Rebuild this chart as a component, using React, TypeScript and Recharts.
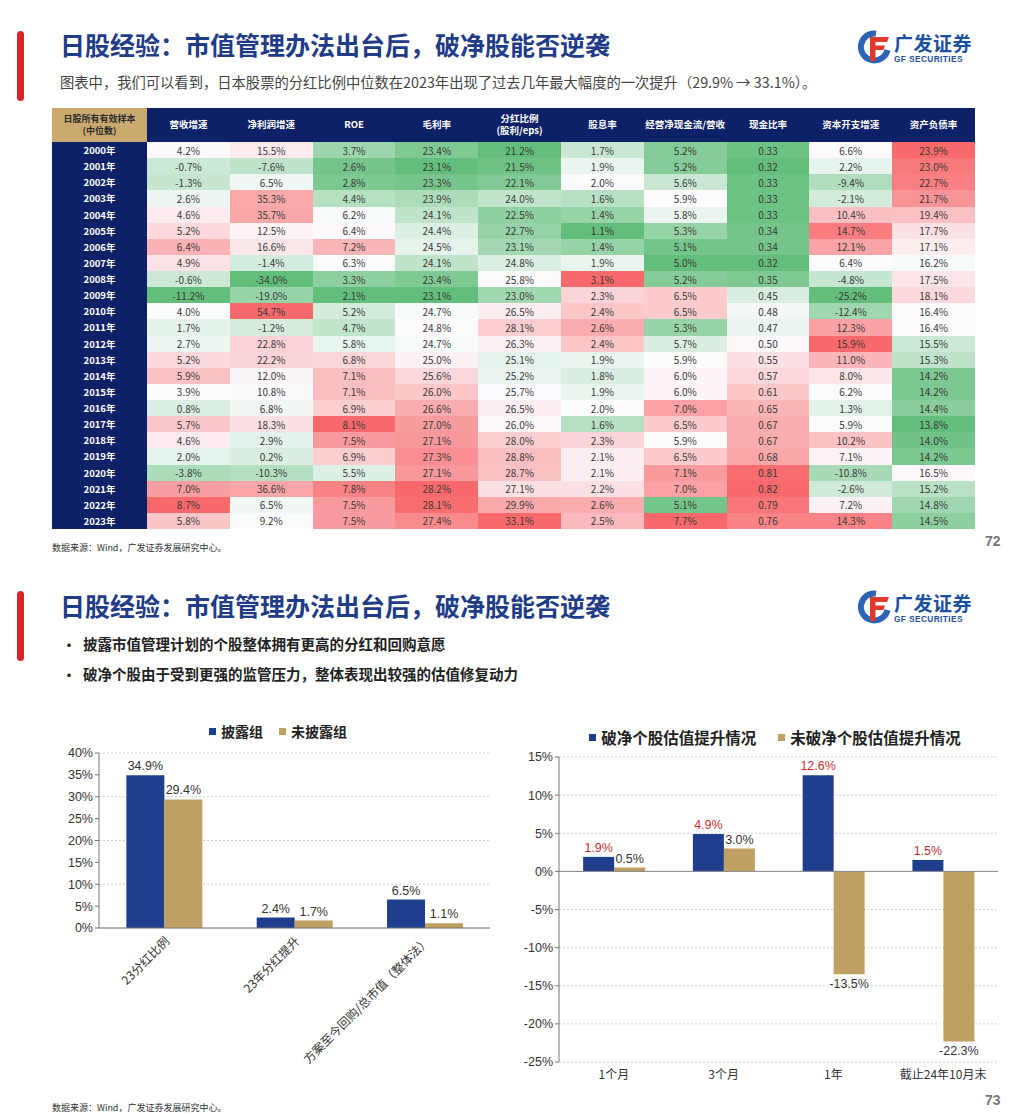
import React from 'react';
import { BarChart, Bar, XAxis, YAxis, CartesianGrid, Legend, LabelList, ReferenceLine } from 'recharts';

// ---------------- DATA ----------------
const years = ['2000年','2001年','2002年','2003年','2004年','2005年','2006年','2007年','2008年','2009年','2010年','2011年','2012年','2013年','2014年','2015年','2016年','2017年','2018年','2019年','2020年','2021年','2022年','2023年'];

const tableCorner = ['日股所有有效样本', '(中位数)'];
const tableHeaders = [['营收增速'], ['净利润增速'], ['ROE'], ['毛利率'], ['分红比例', '(股利/eps)'], ['股息率'], ['经营净现金流/营收'], ['现金比率'], ['资本开支增速'], ['资产负债率']];

const revenueGrowth = [4.2, -0.7, -1.3, 2.6, 4.6, 5.2, 6.4, 4.9, -0.6, -11.2, 4.0, 1.7, 2.7, 5.2, 5.9, 3.9, 0.8, 5.7, 4.6, 2.0, -3.8, 7.0, 8.7, 5.8];
const netProfitGrowth = [15.5, -7.6, 6.5, 35.3, 35.7, 12.5, 16.6, -1.4, -34.0, -19.0, 54.7, -1.2, 22.8, 22.2, 12.0, 10.8, 6.8, 18.3, 2.9, 0.2, -10.3, 36.6, 6.5, 9.2];
const roe = [3.7, 2.6, 2.8, 4.4, 6.2, 6.4, 7.2, 6.3, 3.3, 2.1, 5.2, 4.7, 5.8, 6.8, 7.1, 7.1, 6.9, 8.1, 7.5, 6.9, 5.5, 7.8, 7.5, 7.5];
const grossMargin = [23.4, 23.1, 23.3, 23.9, 24.1, 24.4, 24.5, 24.1, 23.4, 23.1, 24.7, 24.8, 24.7, 25.0, 25.6, 26.0, 26.6, 27.0, 27.1, 27.3, 27.1, 28.2, 28.1, 27.4];
const payoutRatio = [21.2, 21.5, 22.1, 24.0, 22.5, 22.7, 23.1, 24.8, 25.8, 23.0, 26.5, 28.1, 26.3, 25.1, 25.2, 25.7, 26.5, 26.0, 28.0, 28.8, 28.7, 27.1, 29.9, 33.1];
const dividendYield = [1.7, 1.9, 2.0, 1.6, 1.4, 1.1, 1.4, 1.9, 3.1, 2.3, 2.4, 2.6, 2.4, 1.9, 1.8, 1.9, 2.0, 1.6, 2.3, 2.1, 2.1, 2.2, 2.6, 2.5];
const ocfToRevenue = [5.2, 5.2, 5.6, 5.9, 5.8, 5.3, 5.1, 5.0, 5.2, 6.5, 6.5, 5.3, 5.7, 5.9, 6.0, 6.0, 7.0, 6.5, 5.9, 6.5, 7.1, 7.0, 5.1, 7.7];
const cashRatio = [0.33, 0.32, 0.33, 0.33, 0.33, 0.34, 0.34, 0.32, 0.35, 0.45, 0.48, 0.47, 0.50, 0.55, 0.57, 0.61, 0.65, 0.67, 0.67, 0.68, 0.81, 0.82, 0.79, 0.76];
const capexGrowth = [6.6, 2.2, -9.4, -2.1, 10.4, 14.7, 12.1, 6.4, -4.8, -25.2, -12.4, 12.3, 15.9, 11.0, 8.0, 6.2, 1.3, 5.9, 10.2, 7.1, -10.8, -2.6, 7.2, 14.3];
const debtRatio = [23.9, 23.0, 22.7, 21.7, 19.4, 17.7, 17.1, 16.2, 17.5, 18.1, 16.4, 16.4, 15.5, 15.3, 14.2, 14.2, 14.4, 13.8, 14.0, 14.2, 16.5, 15.2, 14.8, 14.5];

const tableColumns = [revenueGrowth, netProfitGrowth, roe, grossMargin, payoutRatio, dividendYield, ocfToRevenue, cashRatio, capexGrowth, debtRatio];
const columnIsRatio = [false, false, false, false, false, false, false, true, false, false];

const leftCategories = ['23分红比例', '23年分红提升', '方案至今回购/总市值（整体法）'];
const leftSeriesNames = ['披露组', '未披露组'];
const disclosedGroup = [34.9, 2.4, 6.5];
const undisclosedGroup = [29.4, 1.7, 1.1];
const leftTicks = [0, 5, 10, 15, 20, 25, 30, 35, 40];

const rightCategories = ['1个月', '3个月', '1年', '截止24年10月末'];
const rightSeriesNames = ['破净个股估值提升情况', '未破净个股估值提升情况'];
const belowBook = [1.9, 4.9, 12.6, 1.5];
const aboveBook = [0.5, 3.0, -13.5, -22.3];
const rightTicks = [-25, -20, -15, -10, -5, 0, 5, 10, 15];

// ---------------- STYLE ----------------
const FONT_CN = '"Noto Sans CJK SC", "Noto Sans", sans-serif';
const FONT_NUM = '"Liberation Sans", Arial, sans-serif';
const NAVY = '#0d2169';
const BLUE = '#1f3e8e';
const GOLD = '#bf9f62';
const TITLE = '#1f3c88';

function makeScale(values: number[]) {
  const s = [...values].sort((a, b) => a - b);
  const min = s[0];
  const max = s[s.length - 1];
  const pos = (s.length - 1) * 0.5;
  const lo = Math.floor(pos);
  const hi = Math.ceil(pos);
  const mid = s[lo] + (s[hi] - s[lo]) * (pos - lo);
  const G = [99, 190, 123];
  const W = [252, 252, 255];
  const R = [248, 105, 107];
  return (v: number) => {
    let a: number[], b: number[], t: number;
    if (v <= mid) {
      a = G; b = W; t = mid === min ? 1 : (v - min) / (mid - min);
    } else {
      a = W; b = R; t = max === mid ? 0 : (v - mid) / (max - mid);
    }
    const c = a.map((x, i) => Math.round(x + (b[i] - x) * t));
    return `rgb(${c[0]},${c[1]},${c[2]})`;
  };
}

function HeatTable() {
  const scales = tableColumns.map(makeScale);
  const cellBase: React.CSSProperties = {
    display: 'flex', alignItems: 'center', justifyContent: 'center', textAlign: 'center',
  };
  return (
    <div style={{
      position: 'absolute', left: 52, top: 108, width: 923, height: 421,
      display: 'grid', gridTemplateColumns: '95px repeat(10, 1fr)', gridTemplateRows: '34px repeat(24, 1fr)',
      fontFamily: FONT_CN,
    }}>
      <div style={{ ...cellBase, background: '#c9a96e', color: '#2b2b2b', fontSize: 9, fontWeight: 700, lineHeight: 1.3, flexDirection: 'column' }}>
        {tableCorner.map((t) => <span key={t}>{t}</span>)}
      </div>
      {tableHeaders.map((h, i) => (
        <div key={'h' + i} style={{ ...cellBase, background: NAVY, color: '#fff', fontSize: 9.5, fontWeight: 700, lineHeight: 1.25, flexDirection: 'column' }}>
          {h.map((t) => <span key={t}>{t}</span>)}
        </div>
      ))}
      {years.map((y, r) => (
        <React.Fragment key={y}>
          <div style={{ ...cellBase, background: NAVY, color: '#fff', fontSize: 9.5, fontWeight: 700 }}>{y}</div>
          {tableColumns.map((col, c) => (
            <div key={c} style={{ ...cellBase, background: scales[c](col[r]), color: '#3a3a3a', fontSize: 10 }}>
              {columnIsRatio[c] ? col[r].toFixed(2) : col[r].toFixed(1) + '%'}
            </div>
          ))}
        </React.Fragment>
      ))}
    </div>
  );
}

function Logo({ x, y }: { x: number; y: number }) {
  return (
    <div style={{ position: 'absolute', left: x, top: y, width: 122, height: 36 }}>
      <svg width={34} height={34} viewBox="0 0 34 34" style={{ position: 'absolute', left: 0, top: 0 }}>
        <path d="M19 3.5 A13.5 13.5 0 1 0 30.5 20" fill="none" stroke="#2c63b5" strokeWidth={6} />
        <path d="M13 7 H32 L30 12 H18.5 V15.5 H28 L26.5 20 H18.5 V31 H13 Z" fill="#e03a2f" />
      </svg>
      <div style={{ position: 'absolute', left: 37, top: 3, fontFamily: FONT_CN, fontSize: 19, fontWeight: 700, color: '#1d4fa0', lineHeight: '19px', letterSpacing: 0.5 }}>广发证券</div>
      <div style={{ position: 'absolute', left: 37, top: 25, fontFamily: FONT_NUM, fontSize: 8.3, fontWeight: 700, color: '#1d4fa0', lineHeight: '9px', letterSpacing: 0.4 }}>GF SECURITIES</div>
    </div>
  );
}

function RedBar({ top }: { top: number }) {
  return <div style={{ position: 'absolute', left: 17, top, width: 7, height: 70, background: '#d9252a', borderRadius: 4 }} />;
}

const txt = (left: number, top: number, size: number, color: string, weight: number, family = FONT_CN): React.CSSProperties => ({
  position: 'absolute', left, top, fontSize: size, color, fontWeight: weight, fontFamily: family, lineHeight: 1, whiteSpace: 'nowrap',
});

const makeLegend = (order: string[], gap: number, shift: number, size: number) => (props: any) => {
  const items = [...(props.payload || [])].sort((a: any, b: any) => order.indexOf(a.value) - order.indexOf(b.value));
  return (
    <div style={{ display: 'flex', justifyContent: 'center', gap, paddingLeft: shift, fontFamily: FONT_CN, fontSize: size, color: '#222', fontWeight: 600 }}>
      {items.map((p: any) => (
        <span key={p.value} style={{ display: 'inline-flex', alignItems: 'center' }}>
          <span style={{ width: 7, height: 7, background: p.color, marginRight: 5, display: 'inline-block' }} />
          {p.value}
        </span>
      ))}
    </div>
  );
};

const pct = (v: any) => `${Number(v).toFixed(1)}%`;

function LeftChart() {
  const data = leftCategories.map((name, i) => ({ name, disclosed: disclosedGroup[i], undisclosed: undisclosedGroup[i] }));
  return (
    <div style={{ position: 'absolute', left: 40, top: 715 }}>
      <BarChart width={460} height={380} data={data} margin={{ top: 38, right: 10, bottom: 7, left: 9 }} barCategoryGap="21%" barGap={0}>
        <CartesianGrid vertical={false} stroke="#cfcfcf" strokeDasharray="2 2" />
        <XAxis dataKey="name" height={160} interval={0} tickLine={false} axisLine={{ stroke: '#777' }}
          angle={-45} textAnchor="end" tick={{ fontSize: 12, fill: '#333', fontFamily: FONT_CN }} />
        <YAxis width={50} domain={[0, 40]} ticks={leftTicks} tickFormatter={(v) => `${v}%`} axisLine={{ stroke: '#777' }}
          tickLine={{ stroke: '#777' }} tickSize={4} tick={{ fontSize: 12.5, fill: '#333', fontFamily: FONT_NUM }} />
        <Legend layout="horizontal" verticalAlign="middle" align="center" wrapperStyle={{ top: 6, left: 0, width: 460, height: 20 }} content={makeLegend(leftSeriesNames, 16, 16, 14)} />
        <Bar dataKey="disclosed" name={leftSeriesNames[0]} fill={BLUE} isAnimationActive={false}>
          <LabelList dataKey="disclosed" position="top" formatter={pct} fill="#333" fontSize={12.5} fontFamily={FONT_NUM} />
        </Bar>
        <Bar dataKey="undisclosed" name={leftSeriesNames[1]} fill={GOLD} isAnimationActive={false}>
          <LabelList dataKey="undisclosed" position="top" formatter={pct} fill="#333" fontSize={12.5} fontFamily={FONT_NUM} />
        </Bar>
      </BarChart>
    </div>
  );
}

function RightChart() {
  const data = rightCategories.map((name, i) => ({ name, below: belowBook[i], above: aboveBook[i] }));
  return (
    <div style={{ position: 'absolute', left: 505, top: 715 }}>
      <BarChart width={510} height={400} data={data} margin={{ top: 42, right: 17, bottom: 23, left: 9 }} barCategoryGap="22%" barGap={0}>
        <CartesianGrid vertical={false} stroke="#cfcfcf" strokeDasharray="2 2" />
        <XAxis dataKey="name" interval={0} axisLine={false} tickLine={false} tick={{ fontSize: 12, fill: '#333', fontFamily: FONT_CN }} />
        <YAxis width={45} domain={[-25, 15]} ticks={rightTicks} tickFormatter={(v) => `${v}%`} axisLine={{ stroke: '#777' }}
          tickLine={{ stroke: '#777' }} tickSize={4} tick={{ fontSize: 12.5, fill: '#333', fontFamily: FONT_NUM }} />
        <ReferenceLine y={0} stroke="#888" />
        <Legend layout="horizontal" verticalAlign="middle" align="center" wrapperStyle={{ top: 11, left: 0, width: 510, height: 20 }} content={makeLegend(rightSeriesNames, 22, 30, 15.5)} />
        <Bar dataKey="below" name={rightSeriesNames[0]} fill={BLUE} isAnimationActive={false}>
          <LabelList dataKey="below" position="top" formatter={pct} fill="#c9302c" fontSize={12.5} fontFamily={FONT_NUM} />
        </Bar>
        <Bar dataKey="above" name={rightSeriesNames[1]} fill={GOLD} isAnimationActive={false}>
          <LabelList dataKey="above" position="top" formatter={pct} fill="#333" fontSize={12.5} fontFamily={FONT_NUM} />
        </Bar>
      </BarChart>
    </div>
  );
}

export default function App() {
  const title = '日股经验：市值管理办法出台后，破净股能否逆袭';
  const source = '数据来源：Wind，广发证券发展研究中心。';
  return (
    <div style={{ position: 'absolute', left: 0, top: 0, width: 1024, height: 1117, background: '#fff', overflow: 'hidden' }}>
      {/* slide 72 */}
      <RedBar top={31} />
      <div style={txt(60, 32, 25, TITLE, 700)}>{title}</div>
      <Logo x={857} y={30} />
      <div style={txt(60, 75, 14.3, '#444', 400)}>图表中，我们可以看到，日本股票的分红比例中位数在2023年出现了过去几年最大幅度的一次提升（29.9% → 33.1%）。</div>
      <HeatTable />
      <div style={txt(52, 543, 9, '#333', 400)}>{source}</div>
      <div style={txt(985, 534, 14, '#777', 700, FONT_NUM)}>72</div>

      {/* slide 73 */}
      <RedBar top={591} />
      <div style={txt(60, 593, 25, TITLE, 700)}>{title}</div>
      <Logo x={857} y={590} />
      <div style={txt(62, 637, 14, '#222', 700)}>•</div>
      <div style={txt(83, 637, 14.5, '#222', 600)}>披露市值管理计划的个股整体拥有更高的分红和回购意愿</div>
      <div style={txt(62, 667, 14, '#222', 700)}>•</div>
      <div style={txt(83, 667, 14.5, '#222', 600)}>破净个股由于受到更强的监管压力，整体表现出较强的估值修复动力</div>
      <LeftChart />
      <RightChart />
      <div style={txt(52, 1103, 9, '#333', 400)}>{source}</div>
      <div style={txt(985, 1093, 14, '#777', 700, FONT_NUM)}>73</div>
    </div>
  );
}
